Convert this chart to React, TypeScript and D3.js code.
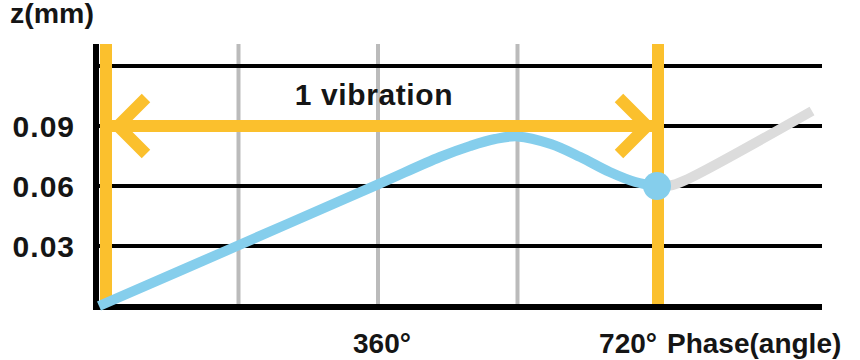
import React from "react";
import * as d3 from "d3";

// ---- data ----
const yGridValues = [0.03, 0.06, 0.09, 0.12];
const yTickLabels = ["0.03", "0.06", "0.09"];
const yTickValues = [0.03, 0.06, 0.09];
const xGridPhases = [180, 360, 540];
const xTickPhases = [360, 720];
const xTickLabels = ["360°", "720°"];
const vibrationPhases = [0, 720];
const arrowValue = 0.09;
const arrowLabel = "1 vibration";
const yAxisTitle = "z(mm)";
const xAxisTitle = "Phase(angle)";

// blue (one vibration) curve: phase in degrees, z in mm
const bluePhase = [0, 178, 360, 440, 479, 511, 540, 583, 621, 659, 692, 720];
const blueZ = [0, 0.03, 0.0608, 0.0745, 0.08, 0.0835, 0.0848, 0.081, 0.0745, 0.067, 0.062, 0.06];

// grey continuation
const greyPhase = [720, 740, 760, 920];
const greyZ = [0.06, 0.0605, 0.0635, 0.0975];

const markerPhase = 720;
const markerZ = 0.06;

const ORANGE = "#FBC02D";
const BLUE = "#85CEEC";
const GREY = "#DCDCDC";
const VGRID = "#BBBBBB";
const TEXT = "#151515";
const FONT = "'Liberation Sans', Arial, Helvetica, sans-serif";

export default function App() {
  const W = 860;
  const H = 360;
  const x = d3.scaleLinear().domain([0, 720]).range([99, 657]);
  const y = d3.scaleLinear().domain([0, 0.12]).range([306, 66]);

  const top = 44;
  const axisY = y(0) + 1;
  const axisX = x(0) - 2;
  const right = 822;

  const line = d3
    .line<[number, number]>()
    .x((d) => x(d[0]))
    .y((d) => y(d[1]))
    .curve(d3.curveCatmullRom.alpha(0.5));

  const blueData = bluePhase.map((p, i) => [p, blueZ[i]] as [number, number]);
  const greyData = greyPhase.map((p, i) => [p, greyZ[i]] as [number, number]);

  const oL = x(vibrationPhases[0]) + 7;
  const oR = x(vibrationPhases[1]) + 1;
  const ay = y(arrowValue);
  const head = 28;

  return (
    <svg
      width={W}
      height={H}
      style={{ position: "absolute", left: 0, top: 0, background: "#fff" }}
      fontFamily={FONT}
    >
      {/* vertical grey gridlines */}
      {xGridPhases.map((p) => (
        <line key={"v" + p} x1={x(p)} x2={x(p)} y1={top} y2={axisY} stroke={VGRID} strokeWidth={4} />
      ))}
      {/* horizontal black gridlines */}
      {yGridValues.map((v) => (
        <line key={"h" + v} x1={axisX} x2={right} y1={y(v)} y2={y(v)} stroke="#000" strokeWidth={4} />
      ))}
      {/* grey continuation */}
      <path d={line(greyData) || ""} fill="none" stroke={GREY} strokeWidth={10} strokeLinecap="butt" />
      {/* axes */}
      <line x1={axisX - 3} x2={right} y1={axisY} y2={axisY} stroke="#000" strokeWidth={6} />
      <line x1={axisX - 1} x2={axisX - 1} y1={top} y2={axisY + 3} stroke="#000" strokeWidth={6} />
      {/* orange vertical lines */}
      <line x1={oL} x2={oL} y1={top} y2={axisY - 3} stroke={ORANGE} strokeWidth={12} />
      <line x1={oR} x2={oR} y1={top} y2={axisY - 3} stroke={ORANGE} strokeWidth={12} />
      {/* blue curve */}
      <path d={line(blueData) || ""} fill="none" stroke={BLUE} strokeWidth={10} strokeLinecap="butt" />
      {/* arrow */}
      <line x1={oL} x2={oR} y1={ay} y2={ay} stroke={ORANGE} strokeWidth={12} />
      <path
        d={`M${oL + 12 + head},${ay - head} L${oL + 12},${ay} L${oL + 12 + head},${ay + head}`}
        fill="none"
        stroke={ORANGE}
        strokeWidth={12}
        strokeLinejoin="miter"
      />
      <path
        d={`M${oR - 11 - head},${ay - head} L${oR - 11},${ay} L${oR - 11 - head},${ay + head}`}
        fill="none"
        stroke={ORANGE}
        strokeWidth={12}
        strokeLinejoin="miter"
      />
      {/* re-cover arrow tips by orange verticals */}
      <line x1={oL} x2={oL} y1={ay - 20} y2={ay + 20} stroke={ORANGE} strokeWidth={12} />
      <line x1={oR} x2={oR} y1={ay - 20} y2={ay + 20} stroke={ORANGE} strokeWidth={12} />
      {/* marker */}
      <circle cx={x(markerPhase)} cy={y(markerZ)} r={14} fill={BLUE} />
      {/* texts */}
      <text x={10} y={23} fontSize={28.5} fontWeight="bold" fill={TEXT}>
        {yAxisTitle}
      </text>
      {yTickValues.map((v, i) => (
        <text
          key={"yt" + v}
          x={75}
          y={y(v)}
          dy="0.36em"
          textAnchor="end"
          fontSize={30}
          letterSpacing={1}
          fontWeight="bold"
          fill={TEXT}
        >
          {yTickLabels[i]}
        </text>
      ))}
      <text x={x(xTickPhases[0]) + 4} y={353} textAnchor="middle" fontSize={28} fontWeight="bold" fill={TEXT}>
        {xTickLabels[0]}
      </text>
      <text x={x(xTickPhases[1])} y={353} textAnchor="end" fontSize={28} fontWeight="bold" fill={TEXT}>
        {xTickLabels[1]}
      </text>
      <text x={x(xTickPhases[1]) + 10} y={353} fontSize={28} fontWeight="bold" fill={TEXT}>
        {xAxisTitle}
      </text>
      <text
        x={374}
        y={105}
        textAnchor="middle"
        fontSize={30}
        letterSpacing={0.6}
        fontWeight="bold"
        fill={TEXT}
      >
        {arrowLabel}
      </text>
    </svg>
  );
}
